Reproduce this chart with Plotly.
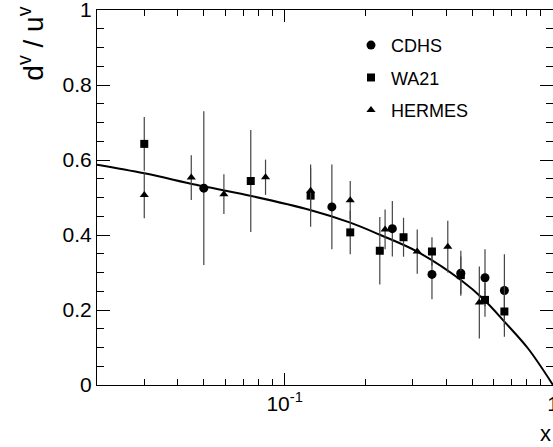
import plotly.graph_objects as go

# ---- data ----
cdhs_x = [0.050, 0.150, 0.252, 0.354, 0.4535, 0.558, 0.659]
cdhs_y = [0.525, 0.475, 0.417, 0.295, 0.298, 0.286, 0.252]
cdhs_e = [0.205, 0.113, 0.074, 0.066, 0.060, 0.076, 0.097]

wa21_x = [0.030, 0.0748, 0.125, 0.1756, 0.2263, 0.2774, 0.354, 0.4535, 0.558, 0.659]
wa21_y = [0.643, 0.544, 0.505, 0.407, 0.358, 0.394, 0.356, 0.293, 0.227, 0.196]
wa21_e = [0.072, 0.136, 0.083, 0.058, 0.090, 0.052, 0.038, 0.050, 0.045, 0.067]

hermes_x = [0.030, 0.0449, 0.0594, 0.0849, 0.125, 0.1756, 0.2368, 0.312, 0.4055, 0.5315]
hermes_y = [0.507, 0.553, 0.509, 0.554, 0.518, 0.493, 0.415, 0.356, 0.369, 0.220]
hermes_e = [0.062, 0.060, 0.053, 0.047, 0.060, 0.051, 0.053, 0.059, 0.069, 0.096]

curve_x = [0.02, 0.03, 0.0468, 0.0721, 0.1244, 0.1756, 0.2275, 0.312, 0.4535, 0.5547, 0.659, 0.806, 1.0]
curve_y = [0.5875, 0.5645, 0.534, 0.5067, 0.4667, 0.433, 0.400, 0.3556, 0.280, 0.2267, 0.169, 0.098, 0.0]

x_major = [0.1, 1]
x_major_text = ["10<sup>-1</sup>", "1"]
x_minor = [0.02, 0.03, 0.04, 0.05, 0.06, 0.07, 0.08, 0.09,
           0.2, 0.3, 0.4, 0.5, 0.6, 0.7, 0.8, 0.9]
y_major = [0, 0.2, 0.4, 0.6, 0.8, 1]
y_major_text = ["0", "0.2", "0.4", "0.6", "0.8", "1"]

FONT = "Liberation Sans, Arial, sans-serif"
ERRC = "#444444"

fig = go.Figure()

fig.add_trace(go.Scatter(
    x=curve_x, y=curve_y, mode="lines", line=dict(color="black", width=2, shape="spline", smoothing=1.0),
    showlegend=False, hoverinfo="skip"))

def add_series(x, y, e, sym, size, name, group):
    fig.add_trace(go.Scatter(
        x=x, y=y, mode="markers", name=name, legendgroup=group,
        marker=dict(symbol=sym, size=size, color="black", line=dict(width=0)),
        error_y=dict(type="data", array=e, visible=True, color=ERRC, thickness=1.2, width=0)))

add_series(cdhs_x, cdhs_y, cdhs_e, "circle", 9, "CDHS", "a")
add_series(wa21_x, wa21_y, wa21_e, "square", 8, "WA21", "b")
add_series(hermes_x, hermes_y, hermes_e, "triangle-up", 8, "HERMES", "c")

fig.update_layout(
    width=553, height=447,
    margin=dict(l=97, r=0, t=10, b=62, autoexpand=False),
    paper_bgcolor="white", plot_bgcolor="white",
    font=dict(family=FONT, color="black", size=21),
    legend=dict(x=0.557, y=0.955, xanchor="left", yanchor="top",
                font=dict(size=18, family=FONT), bgcolor="rgba(0,0,0,0)",
                tracegroupgap=6, traceorder="grouped", itemwidth=30),
    xaxis=dict(type="log", range=[-1.699, 0], showgrid=False, zeroline=False, automargin=False,
               showline=True, linecolor="black", linewidth=1, mirror="allticks",
               ticks="inside", ticklen=12, tickcolor="black", tickwidth=1,
               tickmode="array", tickvals=x_major, ticktext=x_major_text,
               tickfont=dict(size=21), ticklabeloverflow="allow",
               minor=dict(tickmode="array", tickvals=x_minor, ticks="inside", ticklen=6,
                          tickcolor="black", tickwidth=1)),
    yaxis=dict(range=[0, 1], showgrid=False, zeroline=False, automargin=False,
               showline=True, linecolor="black", linewidth=1, mirror="allticks",
               ticks="inside", ticklen=13, tickcolor="black", tickwidth=1,
               tickmode="array", tickvals=y_major, ticktext=y_major_text,
               tickfont=dict(size=21), ticklabeloverflow="allow",
               minor=dict(tickmode="linear", tick0=0, dtick=0.05, ticks="inside", ticklen=7,
                          tickcolor="black", tickwidth=1)),
    annotations=[
        dict(text="d<sup>v</sup> / u<sup>v</sup>", xref="paper", yref="paper",
             x=-0.145, y=0.91, xanchor="center", yanchor="middle", textangle=-90,
             showarrow=False, font=dict(size=28, family=FONT)),
        dict(text="x", xref="paper", yref="paper", x=1.0, y=-0.13,
             xanchor="right", yanchor="middle", showarrow=False,
             font=dict(size=22, family=FONT)),
    ],
)

fig.write_html(
    "out.html",
    post_script="document.documentElement.style.overflow='hidden';"
                "document.body.style.overflow='hidden';"
                "document.body.style.margin='0';",
)
